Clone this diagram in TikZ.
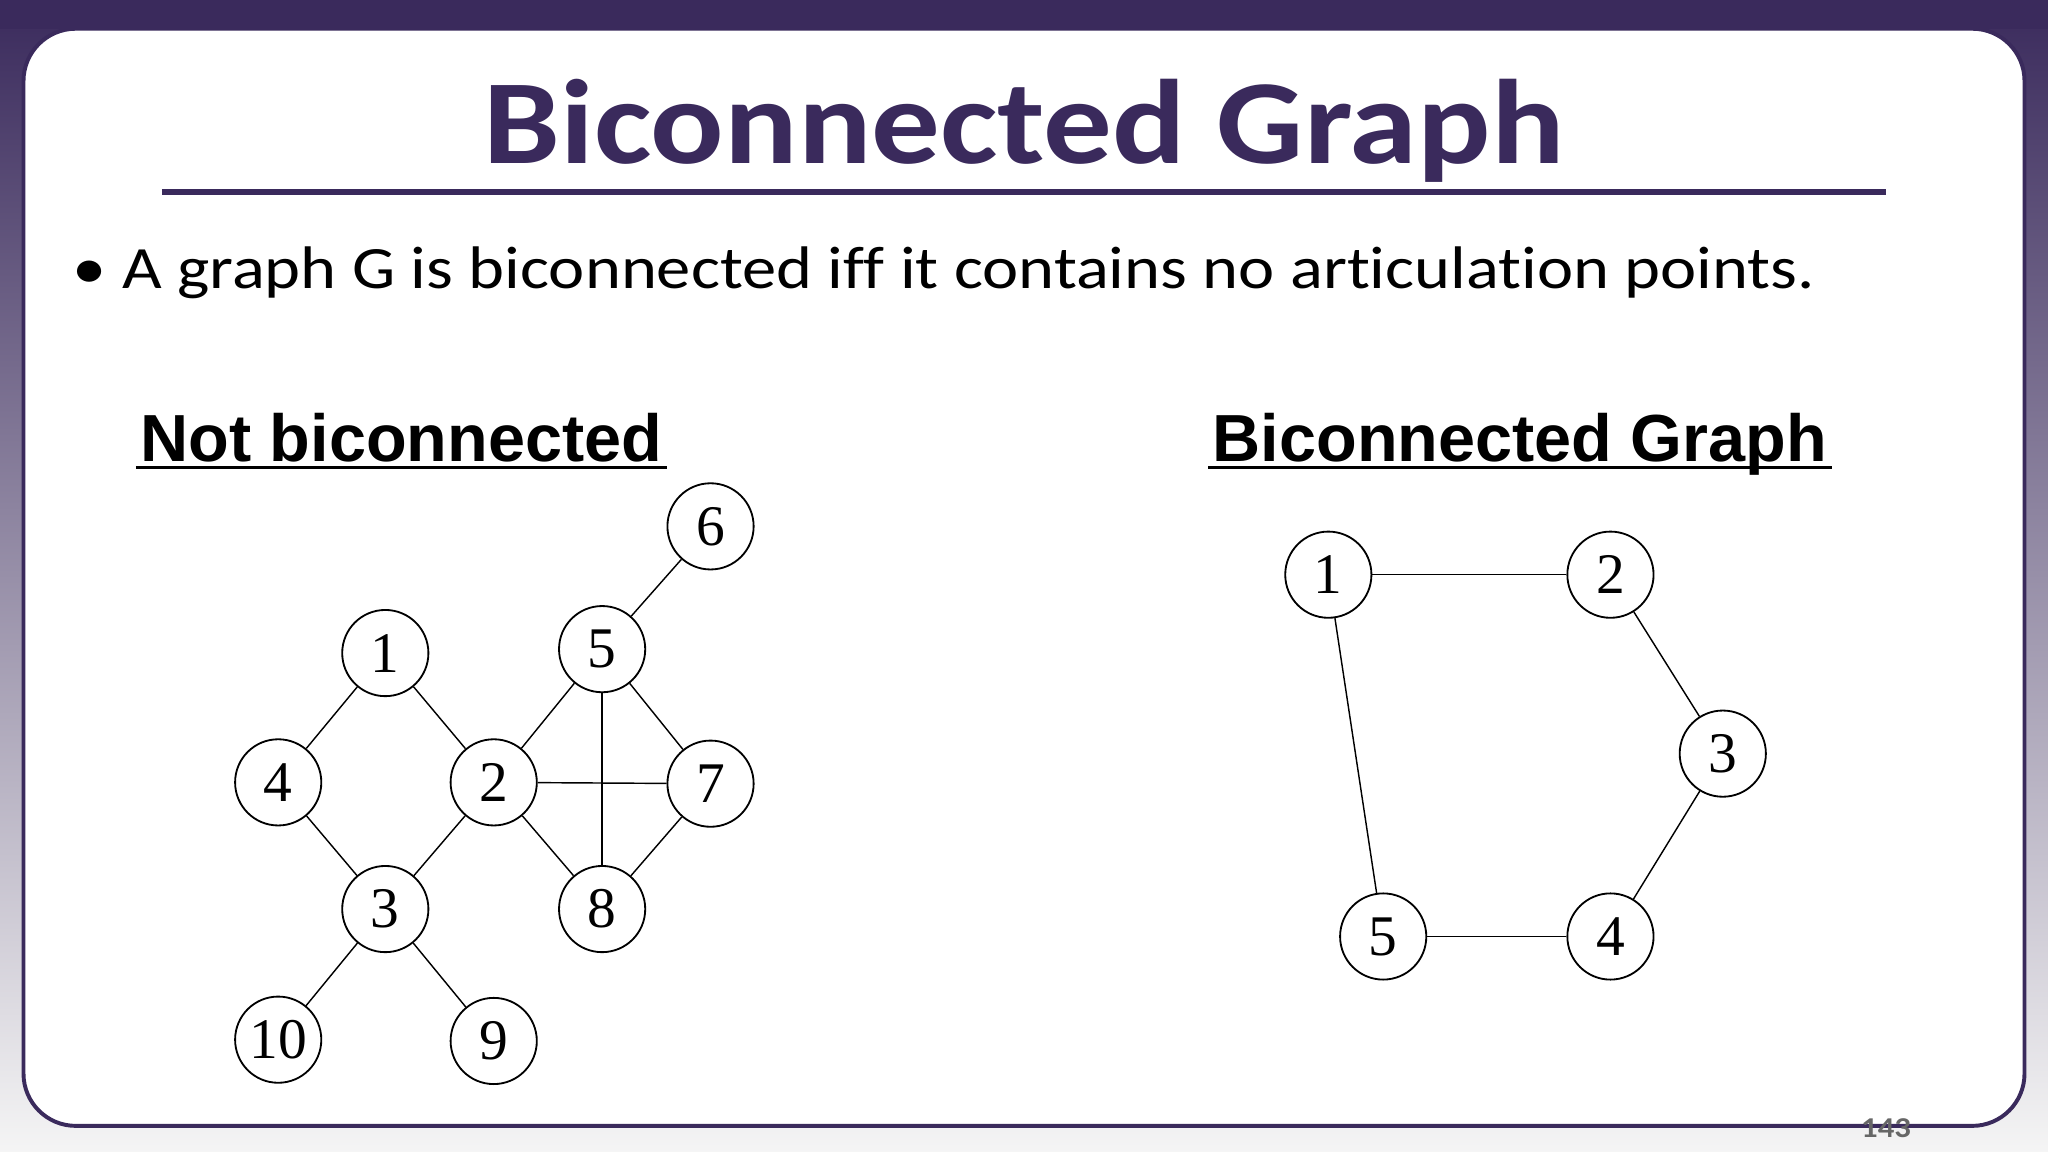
\documentclass[tikz,border=0pt]{standalone}
\usepackage{fontspec}
\setmainfont{Liberation Serif}
\newfontfamily\carl[FakeStretch=1.14,Ligatures={NoCommon}]{Carlito}
\newfontfamily\ari{Liberation Sans}
\definecolor{deep}{HTML}{3A2A5C}
\begin{document}
\begin{tikzpicture}[x=1pt,y=-1pt,
 vtx/.style={circle,draw,line width=1.4pt,minimum size=66pt,inner sep=0pt,font=\fontsize{44}{44}\selectfont},
 edg/.style={line width=1.1pt},
 sub/.style={anchor=base west,font=\ari\bfseries\fontsize{51}{51}\selectfont}]
\useasboundingbox (0,0) rectangle (1568,882);
\shade[top color=deep,bottom color=gray!8] (0,0) rectangle (1568,882);
\fill[deep] (0,0) rectangle (1568,22);
\draw[fill=white,draw=deep,line width=3pt,rounded corners=40pt] (18,22) rectangle (1550,862);
\node[font=\carl\bfseries\fontsize{92}{92}\selectfont,text=deep] (title) at (784,100) {Biconnected Graph};
\draw[deep,line width=4pt] (124,147) -- (1444,147);
\node[anchor=west,font=\carl\fontsize{46}{46}\selectfont] (bul) at (52,209) {\textbullet\ A graph G is biconnected iff it contains no articulation points.};
\node[sub] (t1) at (104,353) {Not biconnected};
\node[sub] (t2) at (925,353) {Biconnected Graph};
\draw[line width=2.5pt] (t1.base west) ++(0,5) -- ([yshift=-5pt]t1.base east);
\draw[line width=2.5pt] (t2.base west) ++(0,5) -- ([yshift=-5pt]t2.base east);
\foreach \n/\x/\y in {6/544/403,1/295/500,5/461/497,4/213/599,2/378/599,7/544/600,3/295/696,8/461/696,10/213/796,9/378/797}
  \node[vtx] (a\n) at (\x,\y) {\n};
\foreach \u/\v in {6/5,1/4,1/2,5/2,5/7,5/8,2/7,2/8,7/8,4/3,2/3,3/10,3/9}
  \draw[edg] (a\u) -- (a\v);
\foreach \n/\x/\y in {1/1017/440,2/1233/440,3/1319/577,4/1233/717,5/1059/717}
  \node[vtx] (b\n) at (\x,\y) {\n};
\foreach \u/\v in {1/2,2/3,3/4,4/5,5/1}
  \draw[edg] (b\u) -- (b\v);
\node[font=\carl\bfseries\fontsize{22}{22}\selectfont,text=gray!80!black] (pg) at (1444,864) {143};
\end{tikzpicture}
\end{document}
